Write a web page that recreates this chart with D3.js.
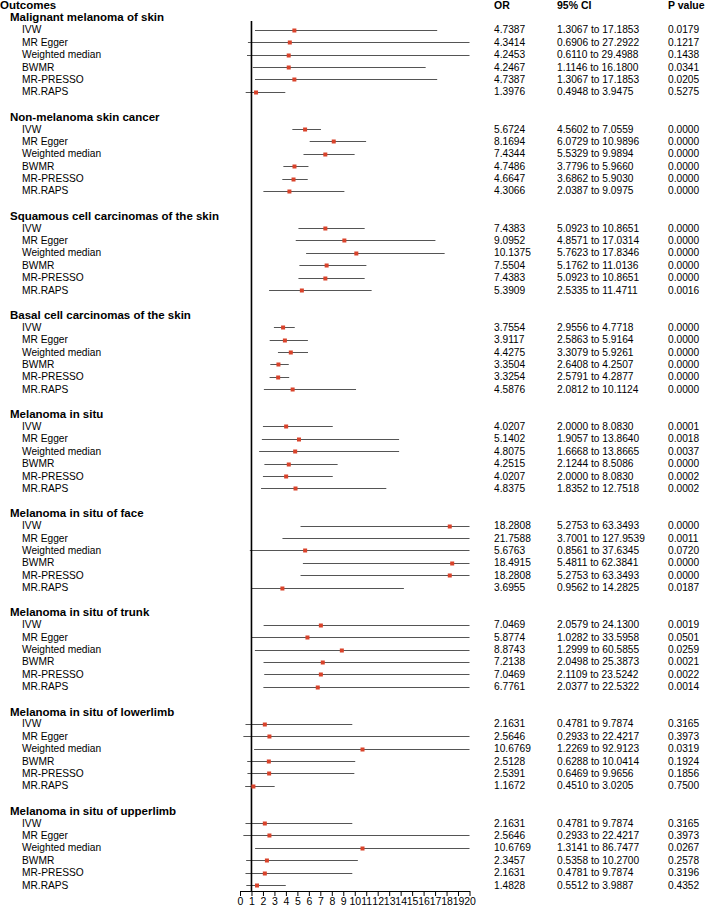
<!DOCTYPE html>
<html lang="en">
<head>
<meta charset="UTF-8">
<title>Forest plot</title>
<style>
  body { margin: 0; background: #fff; }
  svg text { font-family: "Liberation Sans", Arial, sans-serif; fill: #000; }
</style>
</head>
<body>
<svg id="chart" width="708" height="914"></svg>
<script src="https://d3js.org/d3.v7.min.js"></script>
<script>
// outcomes and methods
var outcomes = [
  "Malignant melanoma of skin",
  "Non-melanoma skin cancer",
  "Squamous cell carcinomas of the skin",
  "Basal cell carcinomas of the skin",
  "Melanoma in situ",
  "Melanoma in situ of face",
  "Melanoma in situ of trunk",
  "Melanoma in situ of lowerlimb",
  "Melanoma in situ of upperlimb"
];
var methods = ["IVW", "MR Egger", "Weighted median", "BWMR", "MR-PRESSO", "MR.RAPS"];

// one inner array per outcome, in the order of methods
var orValues = [
  [4.7387, 4.3414, 4.2453, 4.2467, 4.7387, 1.3976],
  [5.6724, 8.1694, 7.4344, 4.7486, 4.6647, 4.3066],
  [7.4383, 9.0952, 10.1375, 7.5504, 7.4383, 5.3909],
  [3.7554, 3.9117, 4.4275, 3.3504, 3.3254, 4.5876],
  [4.0207, 5.1402, 4.8075, 4.2515, 4.0207, 4.8375],
  [18.2808, 21.7588, 5.6763, 18.4915, 18.2808, 3.6955],
  [7.0469, 5.8774, 8.8743, 7.2138, 7.0469, 6.7761],
  [2.1631, 2.5646, 10.6769, 2.5128, 2.5391, 1.1672],
  [2.1631, 2.5646, 10.6769, 2.3457, 2.1631, 1.4828]
];
var lowerCI = [
  [1.3067, 0.6906, 0.6110, 1.1146, 1.3067, 0.4948],
  [4.5602, 6.0729, 5.5329, 3.7796, 3.6862, 2.0387],
  [5.0923, 4.8571, 5.7623, 5.1762, 5.0923, 2.5335],
  [2.9556, 2.5863, 3.3079, 2.6408, 2.5791, 2.0812],
  [2.0000, 1.9057, 1.6668, 2.1244, 2.0000, 1.8352],
  [5.2753, 3.7001, 0.8561, 5.4811, 5.2753, 0.9562],
  [2.0579, 1.0282, 1.2999, 2.0498, 2.1109, 2.0377],
  [0.4781, 0.2933, 1.2269, 0.6288, 0.6469, 0.4510],
  [0.4781, 0.2933, 1.3141, 0.5358, 0.4781, 0.5512]
];
var upperCI = [
  [17.1853, 27.2922, 29.4988, 16.1800, 17.1853, 3.9475],
  [7.0559, 10.9896, 9.9894, 5.9660, 5.9030, 9.0975],
  [10.8651, 17.0314, 17.8346, 11.0136, 10.8651, 11.4711],
  [4.7718, 5.9164, 5.9261, 4.2507, 4.2877, 10.1124],
  [8.0830, 13.8640, 13.8665, 8.5086, 8.0830, 12.7518],
  [63.3493, 127.9539, 37.6345, 62.3841, 63.3493, 14.2825],
  [24.1300, 33.5958, 60.5855, 25.3873, 23.5242, 22.5322],
  [9.7874, 22.4217, 92.9123, 10.0414, 9.9656, 3.0205],
  [9.7874, 22.4217, 86.7477, 10.2700, 9.7874, 3.9887]
];
var pValues = [
  [0.0179, 0.1217, 0.1438, 0.0341, 0.0205, 0.5275],
  [0.0000, 0.0000, 0.0000, 0.0000, 0.0000, 0.0000],
  [0.0000, 0.0000, 0.0000, 0.0000, 0.0000, 0.0016],
  [0.0000, 0.0000, 0.0000, 0.0000, 0.0000, 0.0000],
  [0.0001, 0.0018, 0.0037, 0.0000, 0.0002, 0.0002],
  [0.0000, 0.0011, 0.0720, 0.0000, 0.0000, 0.0187],
  [0.0019, 0.0501, 0.0259, 0.0021, 0.0022, 0.0014],
  [0.3165, 0.3973, 0.0319, 0.1924, 0.1856, 0.7500],
  [0.3165, 0.3973, 0.0267, 0.2578, 0.3196, 0.4352]
];
var xTicks = d3.range(0, 21);

var svg = d3.select("#chart");
var f4 = d3.format(".4f");

// build rows: header, then per outcome a heading, 6 methods and a blank line
var rows = [];
outcomes.forEach(function(o, g) {
  rows.push({type: "head", label: o, idx: 1 + g * 8});
  methods.forEach(function(m, k) {
    rows.push({type: "est", label: m, idx: 2 + g * 8 + k,
      or: orValues[g][k], lo: lowerCI[g][k], hi: upperCI[g][k], p: pValues[g][k]});
  });
});

var y = d3.scaleLinear().domain([0, 71]).range([5, 885]);
var x = d3.scaleLinear().domain([0, 20]).range([240, 469.5]).clamp(true);

var colOR = 494, colCI = 557, colP = 668;

// column headers
svg.append("text").attr("x", 0).attr("y", y(0)).attr("dy", "0.35em")
  .style("font-size", "11.5px").style("font-weight", "bold").text("Outcomes");
[["OR", colOR], ["95% CI", colCI], ["P value", colP]].forEach(function(h) {
  svg.append("text").attr("x", h[1]).attr("y", y(0)).attr("dy", "0.35em")
    .style("font-size", "10.5px").style("font-weight", "bold").text(h[0]);
});

// left labels
svg.selectAll("text.lab")
  .data(rows)
  .enter().append("text")
    .attr("class", "lab")
    .attr("x", function(d) { return d.type == "head" ? 10 : 22; })
    .attr("y", function(d) { return y(d.idx); })
    .attr("dy", "0.35em")
    .style("font-size", function(d) { return d.type == "head" ? "11.5px" : "10.2px"; })
    .style("font-weight", function(d) { return d.type == "head" ? "bold" : "normal"; })
    .text(function(d) { return d.label; });

var est = rows.filter(function(d) { return d.type == "est"; });

// right columns
var cols = svg.selectAll("g.vals").data(est).enter().append("g").attr("class", "vals")
  .attr("transform", function(d) { return "translate(0," + y(d.idx) + ")"; })
  .style("font-size", "10.2px");
cols.append("text").attr("x", colOR).attr("dy", "0.35em").text(function(d) { return f4(d.or); });
cols.append("text").attr("x", colCI).attr("dy", "0.35em").text(function(d) { return f4(d.lo) + " to " + f4(d.hi); });
cols.append("text").attr("x", colP).attr("dy", "0.35em").text(function(d) { return f4(d.p); });

// CI lines
svg.selectAll("line.ci").data(est).enter().append("line")
  .attr("class", "ci")
  .attr("x1", function(d) { return x(d.lo); })
  .attr("x2", function(d) { return x(d.hi); })
  .attr("y1", function(d) { return Math.round(y(d.idx)) + 0.5; })
  .attr("y2", function(d) { return Math.round(y(d.idx)) + 0.5; })
  .attr("stroke", "#555")
  .attr("stroke-width", 1);

// reference line at OR = 1
svg.append("line")
  .attr("x1", x(1)).attr("x2", x(1))
  .attr("y1", 21).attr("y2", 891)
  .attr("stroke", "#000").attr("stroke-width", 1.6);

// point estimates (hidden when outside the axis range)
var s = 4;
svg.selectAll("rect.pt").data(est.filter(function(d) { return d.or >= 0 && d.or <= 20; }))
  .enter().append("rect")
  .attr("class", "pt")
  .attr("x", function(d) { return x(d.or) - s / 2; })
  .attr("y", function(d) { return Math.round(y(d.idx)) + 0.5 - s / 2; })
  .attr("width", s).attr("height", s)
  .attr("fill", "#d9432b");

// x axis
var axis = svg.append("g")
  .attr("transform", "translate(0,891)")
  .call(d3.axisBottom(x.copy().clamp(false)).tickValues(xTicks).tickFormat(d3.format("d")).tickSize(5).tickSizeOuter(0));
axis.select(".domain").attr("stroke", "#000");
axis.selectAll(".tick line").attr("stroke", "#000");
axis.selectAll(".tick text")
  .attr("y", 7)
  .style("font-family", "'Liberation Sans', Arial, sans-serif")
  .style("font-size", "10.5px")
  .attr("fill", "#000");
</script>
</body>
</html>
